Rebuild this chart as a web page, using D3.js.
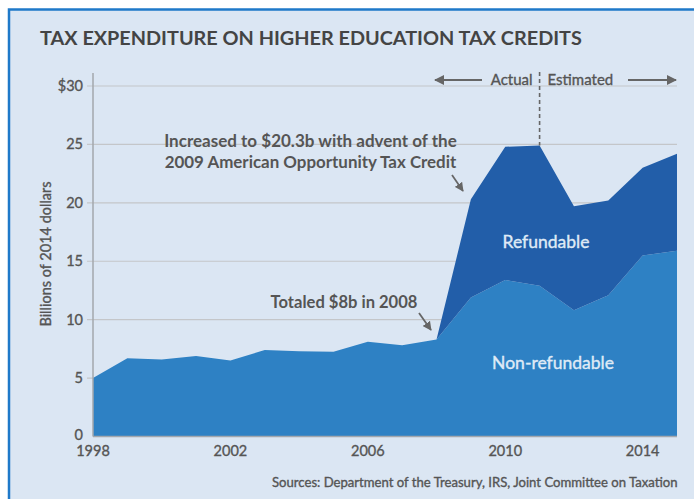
<!DOCTYPE html>
<meta charset="utf-8">
<title>Tax expenditure on higher education tax credits</title>
<style>

body {
  margin: 0;
  background: #fff;
}

text {
  font-family: Lato, "Open Sans", sans-serif;
  fill: #555;
}

/* regular text in the reference is a touch heavier than Lato regular */
text.reg {
  stroke: #555;
  stroke-width: .35px;
}

</style>
<body>
  <script src="https://cdn.jsdelivr.net/npm/d3@7"></script>
  <script>

  const width = 694;
  const height = 499;

  // data
  const years = [1998, 1999, 2000, 2001, 2002, 2003, 2004, 2005, 2006,
                 2007, 2008, 2009, 2010, 2011, 2012, 2013, 2014, 2015];
  const nonRefundable = [5.0, 6.7, 6.6, 6.9, 6.5, 7.4, 7.3, 7.25, 8.1,
                         7.8, 8.3, 11.9, 13.4, 12.9, 10.8, 12.1, 15.5, 15.9];
  const refundable = [0, 0, 0, 0, 0, 0, 0, 0, 0,
                      0, 0, 8.4, 11.4, 12.0, 8.9, 8.1, 7.5, 8.3];
  const xTicks = [1998, 2002, 2006, 2010, 2014];
  const yTicks = [0, 5, 10, 15, 20, 25, 30];
  const yTickLabels = ["0", "5", "10", "15", "20", "25", "$30"];
  const splitYear = 2011; // actual / estimated boundary

  const rows = years.map((y, i) => ({year: y, nonRefundable: nonRefundable[i], refundable: refundable[i]}));

  const svg = d3.select("body").append("svg")
      .attr("width", width)
      .attr("height", height);

  // panel with blue frame, runs off the right and bottom edges
  svg.append("rect")
      .attr("x", 9)
      .attr("y", 9.5)
      .attr("width", 800)
      .attr("height", 600)
      .attr("fill", "#dbe6f3")
      .attr("stroke", "#1f79c9")
      .attr("stroke-width", 2.5);

  const x = d3.scaleLinear().domain([1998, 2015]).range([93, 677]);
  const y = d3.scaleLinear().domain([0, 30]).range([436.5, 86]);

  /* fit a text element to a target width by scaling its font size */
  const fit = (sel, w) => {
    const fs = parseFloat(sel.style("font-size"));
    const len = sel.node().getComputedTextLength();
    sel.style("font-size", (fs * w / len) + "px");
    return sel;
  };

  // title
  fit(svg.append("text")
      .attr("x", 40)
      .attr("y", 45)
      .style("font-size", "20px")
      .style("font-weight", "bold")
      .style("fill", "#444")
      .text("TAX EXPENDITURE ON HIGHER EDUCATION TAX CREDITS"), 542);

  // gridlines + ticks
  svg.append("g").selectAll("line")
      .data(yTicks.filter(d => d > 0))
    .enter().append("line")
      .attr("x1", 87)
      .attr("x2", x(2015))
      .attr("y1", d => y(d))
      .attr("y2", d => y(d))
      .attr("stroke", "#c4c6c9")
      .attr("stroke-width", 1.2);

  svg.append("g").selectAll("text")
      .data(yTicks)
    .enter().append("text")
      .attr("class", "reg")
      .attr("x", 83)
      .attr("y", d => d === 0 ? y(d) + 3 : y(d) + 5)
      .attr("text-anchor", "end")
      .style("font-size", "14.5px")
      .text((d, i) => yTickLabels[i]);

  svg.append("text")
      .attr("class", "reg")
      .attr("transform", "translate(51,254)rotate(-90)")
      .attr("text-anchor", "middle")
      .style("font-size", "14.5px")
      .text("Billions of 2014 dollars");

  // stacked areas
  const stack = d3.stack().keys(["nonRefundable", "refundable"]);
  const series = stack(rows);
  const colors = {nonRefundable: "#2e81c4", refundable: "#225ea9"};

  const area = d3.area()
      .x(d => x(d.data.year))
      .y0(d => y(d[0]))
      .y1(d => y(d[1]));

  svg.append("g").selectAll("path")
      .data(series)
    .enter().append("path")
      .attr("d", area)
      .attr("fill", d => colors[d.key]);

  // axes lines
  svg.append("line")
      .attr("x1", x(1998))
      .attr("x2", x(1998))
      .attr("y1", 73)
      .attr("y2", y(0))
      .attr("stroke", "#a3a7ad")
      .attr("stroke-width", 1.5);

  svg.append("line")
      .attr("x1", x(1998))
      .attr("x2", x(2015))
      .attr("y1", y(0))
      .attr("y2", y(0))
      .attr("stroke", "#a3a7ad")
      .attr("stroke-width", 1.5);

  svg.append("g").selectAll("text")
      .data(xTicks)
    .enter().append("text")
      .attr("class", "reg")
      .attr("x", d => x(d))
      .attr("y", 456)
      .attr("text-anchor", "middle")
      .style("font-size", "14.5px")
      .text(d => d);

  // series labels
  svg.append("text")
      .attr("x", 546)
      .attr("y", 248)
      .attr("text-anchor", "middle")
      .style("font-size", "17.5px")
      .style("fill", "#dfeaf6")
      .style("stroke", "#dfeaf6")
      .style("stroke-width", ".4px")
      .text("Refundable");

  svg.append("text")
      .attr("x", 553)
      .attr("y", 369)
      .attr("text-anchor", "middle")
      .style("font-size", "17.5px")
      .style("fill", "#dfeaf6")
      .style("stroke", "#dfeaf6")
      .style("stroke-width", ".4px")
      .text("Non-refundable");

  // actual / estimated marker
  const gray = "#666";
  svg.append("defs").append("marker")
      .attr("id", "head")
      .attr("viewBox", "0 0 10 10")
      .attr("refX", 9)
      .attr("refY", 5)
      .attr("markerWidth", 5)
      .attr("markerHeight", 5)
      .attr("orient", "auto")
    .append("path")
      .attr("d", "M0,0L10,5L0,10z")
      .attr("fill", gray);

  const iSplit = years.indexOf(splitYear);
  svg.append("line")
      .attr("x1", x(splitYear))
      .attr("x2", x(splitYear))
      .attr("y1", 72)
      .attr("y2", y(refundable[iSplit] + nonRefundable[iSplit]))
      .attr("stroke", gray)
      .attr("stroke-width", 1.6)
      .attr("stroke-dasharray", "4,3");

  svg.append("text")
      .attr("class", "reg")
      .attr("x", x(splitYear) - 7)
      .attr("y", 85)
      .attr("text-anchor", "end")
      .style("font-size", "15px")
      .text("Actual");

  svg.append("text")
      .attr("class", "reg")
      .attr("x", x(splitYear) + 8)
      .attr("y", 85)
      .style("font-size", "15px")
      .text("Estimated");

  svg.append("line")
      .attr("x1", 482).attr("y1", 80)
      .attr("x2", 435).attr("y2", 80)
      .attr("stroke", gray)
      .attr("stroke-width", 2)
      .attr("marker-end", "url(#head)");

  svg.append("line")
      .attr("x1", 628).attr("y1", 80)
      .attr("x2", 676).attr("y2", 80)
      .attr("stroke", gray)
      .attr("stroke-width", 2)
      .attr("marker-end", "url(#head)");

  // annotations
  const note = (txt, cx, yy, w) => fit(svg.append("text")
      .attr("x", cx)
      .attr("y", yy)
      .attr("text-anchor", "middle")
      .style("font-size", "15px")
      .style("font-weight", "bold")
      .text(txt), w);

  note("Increased to $20.3b with advent of the", 310.5, 146.5, 293);
  note("2009 American Opportunity Tax Credit", 310.5, 168, 292);
  note("Totaled $8b in 2008", 344, 308, 147);

  svg.append("line")
      .attr("x1", 452).attr("y1", 175)
      .attr("x2", 463).attr("y2", 191)
      .attr("stroke", gray)
      .attr("stroke-width", 1.8)
      .attr("marker-end", "url(#head)");

  svg.append("line")
      .attr("x1", 419).attr("y1", 313)
      .attr("x2", 431).attr("y2", 330)
      .attr("stroke", gray)
      .attr("stroke-width", 1.8)
      .attr("marker-end", "url(#head)");

  // source
  fit(svg.append("text")
      .attr("class", "reg")
      .attr("x", 272)
      .attr("y", 487)
      .style("font-size", "13px")
      .text("Sources: Department of the Treasury, IRS, Joint Committee on Taxation"), 406);

  </script>
</body>
